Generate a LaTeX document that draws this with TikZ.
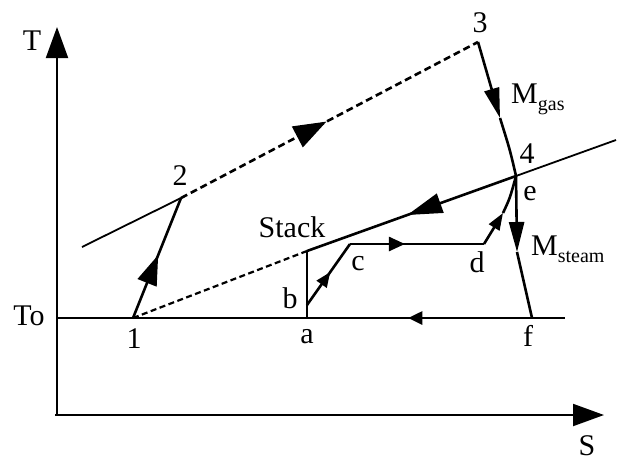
\documentclass[tikz,border=0pt]{standalone}
\usepackage{fontspec}
\setmainfont{Liberation Serif}
\usetikzlibrary{arrows.meta,decorations.markings}
\begin{document}
\begin{tikzpicture}[x=1pt,y=-1pt,
  lbl/.style={anchor=base,inner sep=0pt,font=\fontsize{30}{35}\selectfont},
  cyc/.style={line width=2.6pt},
  refl/.style={line width=1.8pt},
  ax/.style={line width=2pt,-{Triangle[length=31pt,width=22pt]}},
  marr/.style n args={3}{postaction={decorate,decoration={markings,mark=at position #1 with {\arrow{Triangle[length=#2,width=#3]}}}}},
  dsh/.style={dash pattern=on 7pt off 4pt}
]
\useasboundingbox (0,0) rectangle (617,461);
% points
\coordinate (O) at (57,415);
\coordinate (Oleft) at (55,415);
\coordinate (Ttop) at (57,27);
\coordinate (Sright) at (604,415);
\coordinate (p1) at (133,318);
\coordinate (p2) at (181,198);
\coordinate (p3) at (478,42);
\coordinate (p34) at (500,118);
\coordinate (p4) at (516,176);
\coordinate (pm) at (517,252);
\coordinate (pf) at (532,318);
\coordinate (pa) at (307,318);
\coordinate (pst) at (307,251);
\coordinate (pb) at (307,305);
\coordinate (pc) at (350,244);
\coordinate (pd) at (484,244);
\coordinate (pde) at (503,213);
\coordinate (toL) at (57,318);
\coordinate (toR) at (565,318);
\coordinate (r2s) at (82,247);
\coordinate (r4e) at (616,140);
% axes
\draw[ax] (O) -- (Ttop);
\draw[ax] (Oleft) -- (Sright);
% reference lines
\draw[refl] (toL) -- (toR);
\draw[refl] (r2s) -- (p2);
\draw[refl] (p4) -- (r4e);
\draw[line width=2.2pt,dash pattern=on 6pt off 3.5pt] (p1) -- (pst);
\draw[line width=1.5pt] (pa) -- (pst);
% gas cycle
\draw[cyc,marr={0.525}{30pt}{20pt}] (p1) -- (p2);
\draw[cyc,dsh,marr={0.49}{33pt}{23pt}] (p2) -- (p3);
\draw[cyc,-{Triangle[length=30pt,width=15pt]}] (p3) -- (p34);
\draw[cyc] (p34) .. controls (510,150) .. (p4);
\draw[cyc,marr={0.52}{35pt}{20pt}] (p4) -- (pst);
% steam cycle
\draw[cyc,marr={0.54}{15pt}{12pt}] (pb) -- (pc);
\draw[cyc,marr={0.41}{16pt}{14pt}] (pc) -- (pd);
\draw[cyc,-{Triangle[length=17pt,width=12pt]}] (pd) -- (pde);
\draw[cyc] (pde) .. controls (510,198) .. (p4);
\draw[cyc,-{Triangle[length=30pt,width=15pt]}] (p4) -- (pm);
\draw[cyc] (pm) -- (pf);
\draw[cyc,marr={0.55}{14pt}{13pt}] (pf) -- (pa);
% labels
\node[lbl] (lT) at (32,50) {T};
\node[lbl] (lTo) at (29,325) {To};
\node[lbl] (l1) at (134,348) {1};
\node[lbl] (l2) at (180,185) {2};
\node[lbl] (l3) at (480,32) {3};
\node[lbl] (l4) at (527,163) {4};
\node[lbl] (le) at (530,200) {e};
\node[lbl] (la) at (307,343) {a};
\node[lbl] (lb) at (290,308) {b};
\node[lbl] (lc) at (358,270) {c};
\node[lbl] (ld) at (477,272) {d};
\node[lbl] (lf) at (528,346) {f};
\node[lbl] (lst) at (292,237) {Stack};
\node[lbl,anchor=base west] (lMg) at (511,103) {M\raisebox{-7pt}{\fontsize{20}{20}\selectfont gas}};
\node[lbl,anchor=base west] (lMs) at (531,255) {M\raisebox{-7pt}{\fontsize{20}{20}\selectfont steam}};
\node[lbl] (lS) at (587,455) {S};
\end{tikzpicture}
\end{document}
